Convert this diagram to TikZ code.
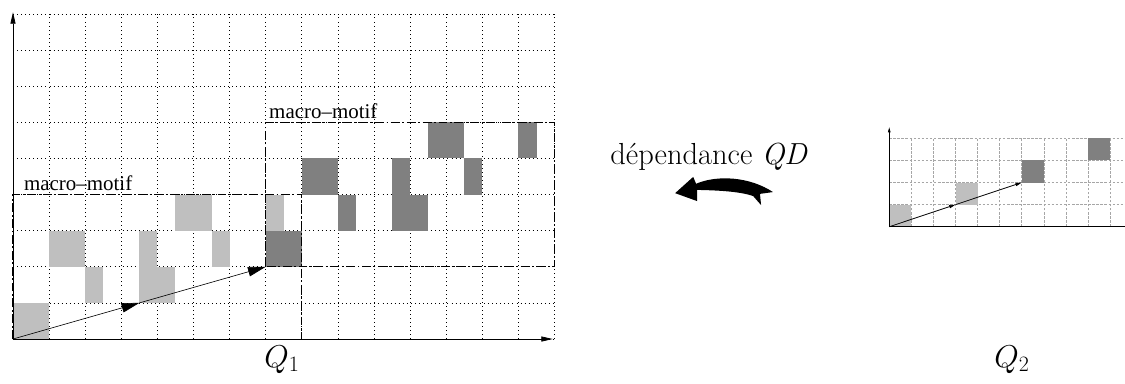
\documentclass[tikz,border=0pt]{standalone}
\usepackage{fontspec}
\newfontfamily\timesfont{Liberation Serif}
\usetikzlibrary{arrows.meta, positioning}
\definecolor{clair}{gray}{0.75}
\definecolor{fonce}{gray}{0.5}

\begin{document}
\begin{tikzpicture}[
  grille/.style={dash pattern=on 0.6pt off 2.6pt, line width=0.6pt},
  petitegrille/.style={dash pattern=on 2pt off 1.2pt, gray!70, line width=0.6pt},
  axe/.style={-{Triangle[length=9pt,width=4pt]}, line width=0.6pt},
  petitaxe/.style={-{Triangle[length=4pt,width=2pt]}, line width=0.6pt},
  vec/.style={-{Triangle[length=14pt,width=7.5pt]}, line width=0.5pt},
  petitvec/.style={-{Triangle[length=5pt,width=2.5pt]}, line width=0.6pt},
  macro/.style={dash pattern=on 7pt off 2pt on 1.5pt off 2pt, line width=0.8pt},
  etiquette/.style={font=\timesfont\fontsize{16.5}{19}\selectfont, anchor=base west, inner sep=0pt},
  grand/.style={font=\fontsize{24}{28}\selectfont, inner sep=0pt}
]
\useasboundingbox (-0.36,-1.22) rectangle (30.80,9.39);

% GRILLE Q1
\draw[grille] (0,0) grid (15,9);
\foreach \x/\y/\w in {0/0/1, 1/2/1, 3.5/2/.5, 5.5/2/.5, 2/1/.5, 3.5/1/1, 4.5/3/1, 7/3/.5}{
  \fill[clair] (\x,\y) rectangle ++(\w,1);
  \fill[fonce] (\x+7,\y+2) rectangle ++(\w,1);
}

% AXES Q1
\coordinate (o1) at (0,0);
\coordinate (x1) at (14.95,0);
\coordinate (y1) at (0,9.05);
\draw[axe] (o1) -- (x1);
\draw[axe] (o1) -- (y1);

% MACRO-MOTIFS
\coordinate (m1) at (3.5,1);
\coordinate (t1) at (7,2);
\draw[macro] (o1) rectangle (8,4);
\draw[macro] (t1) rectangle (15,6);
\node[etiquette] (mm1) at (0.3,4.1) {macro–motif};
\node[etiquette] (mm2) at (7.09,6.12) {macro–motif};
\draw[vec] (o1) -- (m1);
\draw[vec] (m1) -- (t1);

\node[grand, anchor=base] (q1) at (7.45,-0.78) {$Q_1$};

% DEPENDANCE
\node[grand, anchor=base west] (dep) at (16.54,4.82) {dépendance \textit{QD}};
\fill (18.34,4.04) -- (18.84,4.49) -- (18.92,4.30)
  .. controls (19.5,4.55) and (20.4,4.5) .. (21.05,4.07)
  -- (20.69,4.02) -- (20.72,3.71) -- (20.50,3.96)
  .. controls (20.1,4.1) and (19.4,4.12) .. (18.95,4.13)
  -- (18.95,3.82) -- cycle;

% GRILLE Q2
\begin{scope}[shift={(24.27,3.11)}, scale=0.612]
  \draw[petitegrille] (0,0) grid (10.7,4);
  \fill[clair] (0,0) rectangle (1,1);
  \fill[clair] (3,1) rectangle (4,2);
  \fill[fonce] (6,2) rectangle (7,3);
  \fill[fonce] (9,3) rectangle (10,4);
  \coordinate (o2) at (0,0);
  \coordinate (m2) at (3,1);
  \coordinate (t2) at (6,2);
  \coordinate (x2) at (10.8,0);
  \coordinate (y2) at (0,4.5);
  \draw[line width=1pt] (o2) -- (x2);
  \draw[petitaxe] (o2) -- (y2);
  \draw[petitvec] (o2) -- (m2);
  \draw[petitvec] (m2) -- (t2);
\end{scope}
\node[grand, anchor=base] (q2) at (27.67,-0.78) {$Q_2$};

\end{tikzpicture}
\end{document}
